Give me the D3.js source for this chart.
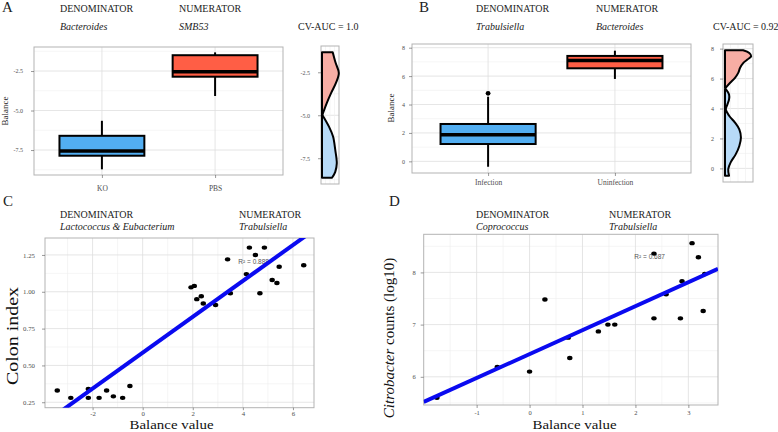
<!DOCTYPE html>
<html><head><meta charset="utf-8">
<script src="https://cdn.jsdelivr.net/npm/d3@7"></script>
<style>
body{margin:0;background:#fff;}
svg{display:block;font-family:"Liberation Serif","Times New Roman",serif;}
</style></head><body>
<svg id="chart" width="778" height="432"></svg>
<script>
// ---------------- DATA ----------------
const panelLetters = ["A", "B", "C", "D"];
const denomNames = ["Bacteroides", "Trabulsiella", "Lactococcus & Eubacterium", "Coprococcus"];
const numerNames = ["SMB53", "Bacteroides", "Trabulsiella", "Trabulsiella"];
const cvAucLabels = ["CV-AUC = 1.0", "CV-AUC = 0.92"];
const r2Labels = ["R\u00B2 = 0.888", "R\u00B2 = 0.687"];

// Panel A boxplot
const groupsA = ["KO", "PBS"];
const whiskLoA = [-8.72, -4.08];
const q1A = [-7.86, -2.86];
const medA = [-7.56, -2.54];
const q3A = [-6.60, -1.50];
const whiskHiA = [-5.65, -1.32];
const yTicksA = [-7.5, -5.0, -2.5];
const yMinorA = [-8.75, -6.25, -3.75, -1.25];

// Panel A density (value, relative width)
const violinA_PBS = [[-1.33, 0.63], [-1.95, 0.80], [-2.54, 0.99], [-3.12, 0.82], [-3.70, 0.54], [-4.29, 0.28], [-4.98, 0.02]];
const violinA_KO = [[-4.98, 0.02], [-5.66, 0.41], [-6.24, 0.65], [-7.02, 0.78], [-7.80, 0.87], [-8.29, 0.78], [-8.64, 0.59]];

// Panel B boxplot
const groupsB = ["Infection", "Uninfection"];
const whiskLoB = [-0.38, 5.80];
const q1B = [1.22, 6.55];
const medB = [1.87, 7.09];
const q3B = [2.63, 7.42];
const whiskHiB = [4.55, 7.79];
const outlierGroupB = ["Infection"];
const outlierValueB = [4.79];
const yTicksB = [0, 2, 4, 6, 8];
const yMinorB = [1, 3, 5, 7];

// Panel B density
const violinB_Uninf = [[7.89, 0.67], [7.71, 0.90], [7.49, 0.97], [7.27, 0.83], [7.05, 0.68], [6.72, 0.56], [6.38, 0.49], [6.05, 0.37], [5.72, 0.19], [5.39, 0.03]];
const violinB_Inf = [[5.30, 0.03], [4.94, 0.15], [4.61, 0.15], [4.28, 0.09], [3.94, 0.03], [3.50, 0.16], [3.06, 0.37], [2.61, 0.53], [2.06, 0.59], [1.50, 0.53], [0.95, 0.40], [0.40, 0.21], [-0.05, 0.12], [-0.49, 0.15]];

// Panel C scatter
const balanceC = [-3.41, -2.87, -2.17, -2.17, -1.74, -1.44, -1.17, -0.80, -0.51,
                  1.93, 2.06, 2.16, 2.34, 2.42, 2.91, 3.39, 3.50, 4.14, 4.26, 4.50, 4.68, 4.86, 5.17, 5.36, 5.45, 6.43];
const colonIndexC = [0.33, 0.28, 0.34, 0.28, 0.28, 0.33, 0.29, 0.28, 0.36,
                  1.03, 1.04, 0.95, 0.97, 0.92, 0.91, 1.22, 0.99, 1.12, 1.30, 1.25, 0.99, 1.30, 1.08, 1.06, 1.17, 1.18];
const xTicksC = [-2, 0, 2, 4, 6];
const xMinorC = [-3, -1, 1, 3, 5];
const yTicksC = [0.25, 0.50, 0.75, 1.00, 1.25];
const yMinorC = [0.375, 0.625, 0.875, 1.125];

// Panel D scatter
const balanceD = [-1.75, -0.61, 0.00, 0.29, 0.73, 0.76, 1.30, 1.48, 1.61, 2.35, 2.35, 2.58, 2.85, 2.88, 3.07, 3.19, 3.28, 3.31];
const citroD = [5.60, 6.19, 6.10, 7.48, 6.75, 6.36, 6.87, 7.00, 7.00, 8.36, 7.12, 7.58, 7.12, 7.83, 8.56, 8.29, 7.26, 7.97];
const xTicksD = [-1, 0, 1, 2, 3];
const xMinorD = [-1.5, -0.5, 0.5, 1.5, 2.5];
const yTicksD = [6, 7, 8];
const yMinorD = [5.5, 6.5, 7.5, 8.5];

// ---------------- STYLE ----------------
const SERIF = "'Liberation Serif','Times New Roman',serif";
const BLUE = "#52AEF2", RED = "#FF5E45";
const LBLUE = "#B7DAF7", LRED = "#F7ADA4";
const GRID_MAJ = "#dedede", GRID_MIN = "#efefef", FRAME = "#b3b3b3";
const TICK_TXT = "#4d4d4d";

const svg = d3.select("#chart");
let clipId = 0;

function frame(g, L, R, T, B) {
  g.append("rect").attr("x", L).attr("y", T).attr("width", R - L).attr("height", B - T)
    .attr("fill", "none").attr("stroke", FRAME).attr("stroke-width", 1);
}
function hGrid(g, L, R, ys, vals, col, w) {
  g.append("g").selectAll("line").data(vals).join("line")
    .attr("x1", L).attr("x2", R).attr("y1", d => ys(d)).attr("y2", d => ys(d))
    .attr("stroke", col).attr("stroke-width", w);
}
function vGrid(g, T, B, xs, vals, col, w) {
  g.append("g").selectAll("line").data(vals).join("line")
    .attr("y1", T).attr("y2", B).attr("x1", d => xs(d)).attr("x2", d => xs(d))
    .attr("stroke", col).attr("stroke-width", w);
}
function styleAxis(ax, size) {
  ax.attr("font-family", SERIF);
  ax.select(".domain").remove();
  ax.selectAll(".tick line").attr("stroke", "#555").attr("stroke-width", 0.6);
  ax.selectAll(".tick text").attr("fill", TICK_TXT).attr("font-size", size).attr("font-family", SERIF);
}
function leftAxis(g, L, ys, vals, fmt, size, pad) {
  const ax = g.append("g").attr("transform", `translate(${L},0)`)
    .call(d3.axisLeft(ys).tickValues(vals).tickFormat(fmt).tickSize(3).tickPadding(pad));
  styleAxis(ax, size);
}
function bottomAxis(g, B, xs, vals, fmt, size, pad, tsize = 3) {
  const ax = g.append("g").attr("transform", `translate(0,${B})`)
    .call(d3.axisBottom(xs).tickValues(vals).tickFormat(fmt).tickSize(tsize).tickPadding(pad));
  styleAxis(ax, size);
}
function text(x, y, s, opts = {}) {
  const t = svg.append("text").attr("x", x).attr("y", y).text(s).attr("font-family", SERIF)
    .attr("font-size", opts.size || 10).attr("fill", opts.fill || "#222");
  if (opts.italic) t.attr("font-style", "italic");
  if (opts.anchor) t.attr("text-anchor", opts.anchor);
  if (opts.rotate) t.attr("transform", `rotate(-90,${x},${y})`);
  if (opts.len) t.attr("textLength", opts.len).attr("lengthAdjust", "spacingAndGlyphs");
  return t;
}

// ---------------- BOX PANEL ----------------
function boxPanel(cfg) {
  const { L, R, T, B, groups, lo, q1, med, q3, hi, fills, yDom, yTicks, yMinor, fmt, tickPadY, tickPadX, outG, outV } = cfg;
  const g = svg.append("g");
  const x = d3.scalePoint().domain(groups).range([L, R]).padding(0.6);
  const y = d3.scaleLinear().domain(yDom).range([B, T]);
  hGrid(g, L, R, y, yMinor, GRID_MIN, 0.6);
  hGrid(g, L, R, y, yTicks, GRID_MAJ, 0.8);
  vGrid(g, T, B, x, groups, GRID_MAJ, 0.8);
  frame(g, L, R, T, B);
  const bw = x.step() * 0.75;
  const bx = g.append("g").selectAll("g").data(groups).join("g");
  bx.append("line").attr("x1", d => x(d)).attr("x2", d => x(d))
    .attr("y1", (d, i) => y(hi[i])).attr("y2", (d, i) => y(q3[i])).attr("stroke", "#000").attr("stroke-width", 2);
  bx.append("line").attr("x1", d => x(d)).attr("x2", d => x(d))
    .attr("y1", (d, i) => y(lo[i])).attr("y2", (d, i) => y(q1[i])).attr("stroke", "#000").attr("stroke-width", 2);
  bx.append("rect").attr("x", d => x(d) - bw / 2).attr("width", bw)
    .attr("y", (d, i) => y(q3[i])).attr("height", (d, i) => y(q1[i]) - y(q3[i]))
    .attr("fill", (d, i) => fills[i]).attr("stroke", "#000").attr("stroke-width", 2);
  bx.append("line").attr("x1", d => x(d) - bw / 2).attr("x2", d => x(d) + bw / 2)
    .attr("y1", (d, i) => y(med[i])).attr("y2", (d, i) => y(med[i])).attr("stroke", "#000").attr("stroke-width", 3.5);
  if (outG) {
    g.append("g").selectAll("circle").data(outG).join("circle")
      .attr("cx", d => x(d)).attr("cy", (d, i) => y(outV[i])).attr("r", 2.4).attr("fill", "#000");
  }
  leftAxis(g, L, y, yTicks, fmt, 6, tickPadY);
  bottomAxis(g, B, x, groups, d => d, 7.5, tickPadX);
}

// ---------------- VIOLIN PANEL ----------------
function violinPanel(cfg) {
  const { L, R, T, B, x0, x1, yDom, yTicks, yMinor, fmt, profiles, fills, tickPad } = cfg;
  const g = svg.append("g");
  const y = d3.scaleLinear().domain(yDom).range([B, T]);
  const w = d3.scaleLinear().domain([0, 1]).range([x0, x1]);
  const gx = d3.scaleLinear().domain([0, 4]).range([L, R]);
  hGrid(g, L, R, y, yMinor, GRID_MIN, 0.6);
  hGrid(g, L, R, y, yTicks, GRID_MAJ, 0.8);
  vGrid(g, T, B, gx, [1, 2, 3], GRID_MIN, 0.6);
  frame(g, L, R, T, B);
  const area = d3.area().curve(d3.curveCatmullRom.alpha(0.5))
    .y(d => y(d[0])).x0(w(0)).x1(d => w(d[1]));
  profiles.forEach((p, i) => {
    g.append("path").datum(p).attr("d", area).attr("fill", fills[i])
      .attr("stroke", "#000").attr("stroke-width", 2).attr("stroke-linejoin", "round");
  });
  leftAxis(g, L, y, yTicks, fmt, 6, tickPad);
}

// ---------------- SCATTER PANEL ----------------
function scatterPanel(cfg) {
  const { L, R, T, B, xDom, yDom, xs, ys, xTicks, xMinor, yTicks, yMinor, fx, fy, r2, r2x, r2y, tickSizeFont, padY, padX, tickLenX } = cfg;
  const g = svg.append("g");
  const x = d3.scaleLinear().domain(xDom).range([L, R]);
  const y = d3.scaleLinear().domain(yDom).range([B, T]);
  hGrid(g, L, R, y, yMinor, GRID_MIN, 0.6);
  vGrid(g, T, B, x, xMinor, GRID_MIN, 0.6);
  hGrid(g, L, R, y, yTicks, GRID_MAJ, 0.8);
  vGrid(g, T, B, x, xTicks, GRID_MAJ, 0.8);
  frame(g, L, R, T, B);
  g.append("text").attr("x", x(r2x)).attr("y", y(r2y)).text(r2)
    .attr("font-size", 6.5).attr("fill", "#555").attr("font-family", "'Liberation Sans',Arial,sans-serif");
  g.append("g").selectAll("ellipse").data(xs).join("ellipse")
    .attr("cx", d => x(d)).attr("cy", (d, i) => y(ys[i])).attr("rx", 2.7).attr("ry", 2.2).attr("fill", "#000");
  // least squares fit
  const mx = d3.mean(xs), my = d3.mean(ys);
  const sxy = d3.sum(xs, (d, i) => (d - mx) * (ys[i] - my));
  const sxx = d3.sum(xs, d => (d - mx) * (d - mx));
  const slope = sxy / sxx, icpt = my - slope * mx;
  const id = "clip" + (clipId++);
  g.append("clipPath").attr("id", id).append("rect").attr("x", L).attr("y", T).attr("width", R - L).attr("height", B - T);
  const line = d3.line().x(d => x(d)).y(d => y(icpt + slope * d));
  g.append("path").datum(xDom).attr("d", line).attr("clip-path", `url(#${id})`)
    .attr("stroke", "#0A0AF0").attr("stroke-width", 4).attr("fill", "none");
  leftAxis(g, L, y, yTicks, fy, tickSizeFont, padY);
  bottomAxis(g, B, x, xTicks, fx, tickSizeFont, padX, tickLenX);
}

// ---------------- DRAW ----------------
boxPanel({ L: 34, R: 283, T: 47, B: 175, groups: groupsA, lo: whiskLoA, q1: q1A, med: medA, q3: q3A, hi: whiskHiA,
  fills: [BLUE, RED], yDom: [-9.08, -0.98], yTicks: yTicksA, yMinor: yMinorA, fmt: d => d.toFixed(1), tickPadY: 8, tickPadX: 7.4 });
violinPanel({ L: 321, R: 339, T: 46, B: 184, x0: 322, x1: 339, yDom: [-9.0, -0.97], yTicks: yTicksA, yMinor: yMinorA,
  fmt: d => d.toFixed(1), profiles: [violinA_PBS, violinA_KO], fills: [LRED, LBLUE], tickPad: 8 });

boxPanel({ L: 412, R: 691, T: 44, B: 173, groups: groupsB, lo: whiskLoB, q1: q1B, med: medB, q3: q3B, hi: whiskHiB,
  fills: [BLUE, RED], yDom: [-0.82, 8.26], yTicks: yTicksB, yMinor: yMinorB, fmt: d => String(d), tickPadY: 4, tickPadX: 3.7,
  outG: outlierGroupB, outV: outlierValueB });
violinPanel({ L: 723, R: 753, T: 44, B: 182, x0: 725, x1: 752, yDom: [-0.91, 8.31], yTicks: yTicksB, yMinor: yMinorB,
  fmt: d => String(d), profiles: [violinB_Uninf, violinB_Inf], fills: [LRED, LBLUE], tickPad: 6 });

scatterPanel({ L: 45, R: 314, T: 238, B: 407.7, xDom: [-3.9, 6.84], yDom: [0.213, 1.365], xs: balanceC, ys: colonIndexC,
  xTicks: xTicksC, xMinor: xMinorC, yTicks: yTicksC, yMinor: yMinorC, fx: d => String(d), fy: d => d.toFixed(2),
  r2: r2Labels[0], r2x: 3.82, r2y: 1.19, tickSizeFont: 6.8, padY: 7, padX: 0.8, tickLenX: 2.5 });
scatterPanel({ L: 423.7, R: 718, T: 234.3, B: 405, xDom: [-2.0, 3.56], yDom: [5.46, 8.73], xs: balanceD, ys: citroD,
  xTicks: xTicksD, xMinor: xMinorD, yTicks: yTicksD, yMinor: yMinorD, fx: d => String(d), fy: d => String(d),
  r2: r2Labels[1], r2x: 1.98, r2y: 8.26, tickSizeFont: 6.5, padY: 5, padX: 2.5, tickLenX: 3 });

// ---------------- TEXT ----------------
const letterPos = [[2, 11.7], [419, 11.5], [3, 206], [389, 206]];
panelLetters.forEach((s, i) => text(letterPos[i][0], letterPos[i][1], s, { size: 15 }));
const hdrPos = [[60, 179, 12.3, 29.5], [476, 596, 12.3, 29.5], [60, 239, 217.5, 229.5], [476, 609, 217.5, 229.5]];
denomNames.forEach((s, i) => {
  const p = hdrPos[i];
  text(p[0], p[2], "DENOMINATOR", { size: 10 });
  text(p[0], p[3], s, { size: 10, italic: true });
  text(p[1], p[2], "NUMERATOR", { size: 10 });
  text(p[1], p[3], numerNames[i], { size: 10, italic: true });
});
text(298, 30, cvAucLabels[0], { size: 10 });
text(713, 30, cvAucLabels[1], { size: 10 });

text(8, 111, "Balance", { size: 9, rotate: true, anchor: "middle" });
text(394, 108, "Balance", { size: 9, rotate: true, anchor: "middle" });

text(171.5, 429, "Balance value", { size: 13, anchor: "middle", fill: "#111", len: 84 });
text(574.5, 429, "Balance value", { size: 13, anchor: "middle", fill: "#111", len: 84 });
text(18, 336, "Colon index", { size: 16, rotate: true, anchor: "middle", len: 98, fill: "#111" });

const cl = svg.append("text").attr("x", 394).attr("y", 338).attr("font-size", 15).attr("fill", "#111")
  .attr("font-family", SERIF).attr("text-anchor", "middle").attr("transform", "rotate(-90,394,338)");
cl.append("tspan").attr("font-style", "italic").text("Citrobacter");
cl.append("tspan").text(" counts (log10)");
</script>
</body></html>
